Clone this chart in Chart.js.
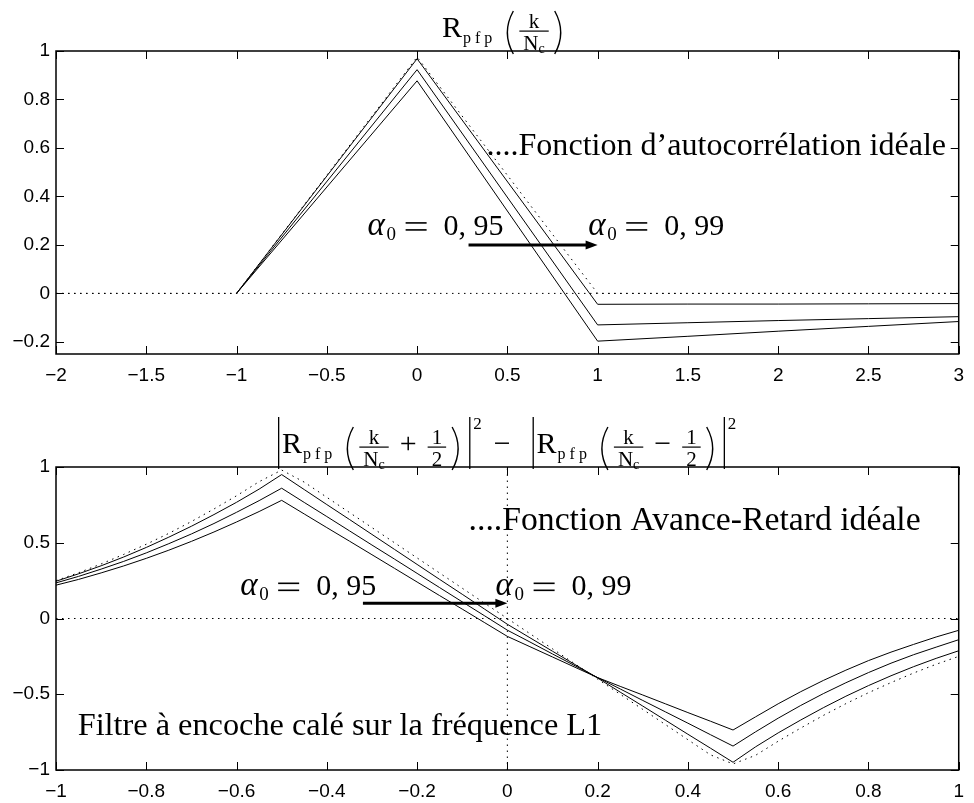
<!DOCTYPE html>
<html>
<head>
<meta charset="UTF-8">
<title>Autocorrélation et fonction Avance-Retard</title>
<script src="https://cdn.jsdelivr.net/npm/chart.js@4.4.1/dist/chart.umd.min.js"></script>
<style>
    body { margin: 0; background: #fff; }
    .wrap { position: relative; width: 974px; height: 803px; }
    #haut { position: absolute; left: 0; top: 0; }
    #bas { position: absolute; left: 0; top: 400px; }
</style>
</head>
<body>
<div class="wrap">
    <canvas id="haut" width="974" height="400"></canvas>
    <canvas id="bas" width="974" height="403"></canvas>
</div>
<script>
// R_pfp(k/Nc) pour alpha0 = 0,95 ... 0,99
var retard = [-1, 0, 1, 1.5, 2, 2.5, 3];
var rPfp95 = [0, 0.877, -0.197, -0.177, -0.156, -0.136, -0.116];
var rPfp97 = [0, 0.923, -0.130, -0.121, -0.112, -0.104, -0.096];
var rPfp99 = [0, 0.968, -0.045, -0.044, -0.044, -0.043, -0.042];
var retardIdeal = [-2, -1, 0, 1, 3];
var rIdeal = [0, 0, 0.975, 0, 0];
var ticksRetard = [-2, -1.5, -1, -0.5, 0, 0.5, 1, 1.5, 2, 2.5, 3];
var ticksR = [-0.2, 0, 0.2, 0.4, 0.6, 0.8, 1];

// discriminateur avance-retard |R(k/Nc+1/2)|^2 - |R(k/Nc-1/2)|^2
var ecart = [-1, -0.95, -0.9, -0.85, -0.8, -0.75, -0.7, -0.65, -0.6, -0.55, -0.5,
             -0.45, -0.4, -0.35, -0.3, -0.25, -0.2, -0.15, -0.1, -0.05, 0,
             0.05, 0.1, 0.15, 0.2, 0.25, 0.3, 0.35, 0.4, 0.45, 0.5,
             0.55, 0.6, 0.65, 0.7, 0.75, 0.8, 0.85, 0.9, 0.95, 1];
var dIdeal = [0.25, 0.302, 0.36, 0.423, 0.49, 0.562, 0.64, 0.723, 0.81, 0.903, 0.98,
              0.9, 0.8, 0.7, 0.6, 0.5, 0.4, 0.3, 0.2, 0.1, 0,
              -0.1, -0.2, -0.3, -0.4, -0.5, -0.6, -0.7, -0.8, -0.9, -0.96,
              -0.903, -0.81, -0.723, -0.64, -0.562, -0.49, -0.423, -0.36, -0.302, -0.25];
var d99 = [0.246, 0.295, 0.348, 0.406, 0.469, 0.537, 0.609, 0.686, 0.767, 0.854, 0.950,
           0.851, 0.752, 0.654, 0.555, 0.456, 0.357, 0.258, 0.160, 0.061, -0.038,
           -0.127, -0.216, -0.304, -0.393, -0.486, -0.578, -0.671, -0.764, -0.856, -0.949,
           -0.847, -0.755, -0.670, -0.589, -0.513, -0.443, -0.378, -0.318, -0.263, -0.213];
var d97 = [0.235, 0.278, 0.326, 0.377, 0.433, 0.494, 0.558, 0.627, 0.701, 0.778, 0.860,
           0.766, 0.673, 0.579, 0.485, 0.392, 0.298, 0.204, 0.110, 0.017, -0.077,
           -0.155, -0.234, -0.312, -0.390, -0.465, -0.541, -0.616, -0.691, -0.767, -0.842,
           -0.748, -0.658, -0.574, -0.496, -0.424, -0.357, -0.295, -0.239, -0.189, -0.140];
var d95 = [0.220, 0.258, 0.301, 0.347, 0.397, 0.451, 0.509, 0.571, 0.637, 0.706, 0.780,
           0.690, 0.600, 0.511, 0.421, 0.331, 0.241, 0.151, 0.062, -0.028, -0.118,
           -0.186, -0.254, -0.322, -0.390, -0.448, -0.505, -0.563, -0.621, -0.678, -0.736,
           -0.649, -0.563, -0.483, -0.409, -0.341, -0.278, -0.222, -0.171, -0.122, -0.078];
var ticksEcart = [-1, -0.8, -0.6, -0.4, -0.2, 0, 0.2, 0.4, 0.6, 0.8, 1];
var ticksD = [-1, -0.5, 0, 0.5, 1];

var SERIF = "'Liberation Serif', 'DejaVu Serif', serif";
var SANS = "'Liberation Sans', Arial, sans-serif";

function xy(xs, ys) {
    return xs.map(function(x, i) { return {x: x, y: ys[i]}; });
}

function fmtTick(v) {
    var r = Math.round(v * 100) / 100;
    if (r === 0) return '0';
    return (r < 0 ? '\u2212' : '') + Math.abs(r);
}

function solid(data) {
    return { data: data, showLine: true, borderColor: '#000', borderWidth: 1, pointRadius: 0, fill: false };
}
function dotted(data) {
    return { data: data, showLine: true, borderColor: '#000', borderWidth: 1, borderDash: [1.5, 4.5], pointRadius: 0, fill: false };
}

function axis(min, max, ticks, isX) {
    return {
        type: 'linear', min: min, max: max,
        afterBuildTicks: function(s) { s.ticks = ticks.map(function(v) { return {value: v}; }); },
        afterFit: function(s) { if (isX) s.height = 30; else s.width = 56; },
        grid: { display: false, drawTicks: false },
        border: { display: false },
        ticks: {
            color: '#000', padding: isX ? 10 : 6, maxRotation: 0, autoSkip: false,
            font: { family: SANS, size: 19 },
            callback: fmtTick
        }
    };
}

// cadre et graduations rentrantes
var cadre = {
    id: 'cadre',
    afterDatasetsDraw: function(chart) {
        var a = chart.chartArea, ctx = chart.ctx, sx = chart.scales.x, sy = chart.scales.y;
        ctx.save();
        ctx.strokeStyle = '#000';
        ctx.lineWidth = 1;
        ctx.beginPath();
        sx.ticks.forEach(function(t) {
            var p = Math.round(sx.getPixelForValue(t.value)) + 0.5;
            ctx.moveTo(p, a.bottom); ctx.lineTo(p, a.bottom - 8);
            ctx.moveTo(p, a.top); ctx.lineTo(p, a.top + 8);
        });
        sy.ticks.forEach(function(t) {
            var p = Math.round(sy.getPixelForValue(t.value)) + 0.5;
            ctx.moveTo(a.left, p); ctx.lineTo(a.left + 8, p);
            ctx.moveTo(a.right, p); ctx.lineTo(a.right - 8, p);
        });
        ctx.stroke();
        ctx.lineWidth = 1.5;
        ctx.strokeRect(a.left, a.top, a.right - a.left, a.bottom - a.top);
        ctx.restore();
    }
};

// petite mise en page de formules
function txt(s, size, dy, spacing) {
    var font = size + 'px ' + SERIF;
    return {
        w: function(ctx) { ctx.font = font; ctx.letterSpacing = (spacing || 0) + 'px'; var w = ctx.measureText(s).width; ctx.letterSpacing = '0px'; return w; },
        draw: function(ctx, x, b) {
            ctx.font = font;
            ctx.letterSpacing = (spacing || 0) + 'px';
            ctx.fillText(s, x, b + (dy || 0));
            ctx.letterSpacing = '0px';
        }
    };
}
function gap(w) { return { w: function() { return w; }, draw: function() {} }; }
function paren(left) {
    return {
        w: function() { return 14; },
        draw: function(ctx, x, b) {
            var t = b - 26, u = b + 17;
            ctx.beginPath();
            if (left) { ctx.moveTo(x + 11, t); ctx.quadraticCurveTo(x - 1, (t + u) / 2, x + 11, u); }
            else { ctx.moveTo(x + 3, t); ctx.quadraticCurveTo(x + 15, (t + u) / 2, x + 3, u); }
            ctx.lineWidth = 1.4;
            ctx.stroke();
        }
    };
}
function frac(num, den, denSub) {
    var f = '21px ' + SERIF, fs = '14px ' + SERIF;
    function wd(ctx) {
        ctx.font = f;
        var dn = ctx.measureText(den).width;
        ctx.font = fs;
        if (denSub) dn += ctx.measureText(denSub).width;
        return dn;
    }
    function content(ctx) { ctx.font = f; return Math.max(ctx.measureText(num).width, wd(ctx)); }
    return {
        w: function(ctx) { return content(ctx) + 14; },
        draw: function(ctx, x, b) {
            var w = content(ctx) + 14, c = x + w / 2;
            ctx.font = f;
            var nw = ctx.measureText(num).width;
            ctx.fillText(num, c - nw / 2, b - 9);
            var dw = wd(ctx);
            ctx.font = f;
            ctx.fillText(den, c - dw / 2, b + 13);
            if (denSub) {
                var w0 = ctx.measureText(den).width;
                ctx.font = fs;
                ctx.fillText(denSub, c - dw / 2 + w0, b + 16);
            }
            ctx.fillRect(x + 3, b - 6.5, w - 6, 1.2);
        }
    };
}
function vbar() {
    return {
        w: function() { return 6; },
        draw: function(ctx, x, b) { ctx.fillRect(x + 2, b - 36, 1.3, 52); }
    };
}
function rPfp() {
    return [txt('R', 30), gap(1), txt('pfp', 16, 6, 4), gap(6)];
}
function mathRow(ctx, items, x, b) {
    ctx.save();
    ctx.fillStyle = '#000'; ctx.strokeStyle = '#000';
    ctx.textAlign = 'left'; ctx.textBaseline = 'alphabetic';
    items.forEach(function(it) { var w = it.w(ctx); it.draw(ctx, x, b); x += w; });
    ctx.restore();
}

function alphaLabel(chart, x, y, val) {
    var ctx = chart.ctx;
    var px = chart.scales.x.getPixelForValue(x), py = chart.scales.y.getPixelForValue(y);
    ctx.save();
    ctx.fillStyle = '#000'; ctx.textAlign = 'left'; ctx.textBaseline = 'alphabetic';
    ctx.font = 'italic 33px ' + SERIF;
    ctx.fillText('\u03b1', px, py);
    ctx.font = '19px ' + SERIF;
    ctx.fillText('0', px + 19, py + 5);
    ctx.fillRect(px + 38, py - 12.5, 21, 1.6);
    ctx.fillRect(px + 38, py - 5.5, 21, 1.6);
    ctx.font = '30px ' + SERIF;
    ctx.fillText(val, px + 76, py);
    ctx.restore();
}

function arrow(chart, x0, x1, y) {
    var ctx = chart.ctx;
    var a = chart.scales.x.getPixelForValue(x0), b = chart.scales.x.getPixelForValue(x1);
    var py = chart.scales.y.getPixelForValue(y);
    ctx.save();
    ctx.strokeStyle = '#000'; ctx.fillStyle = '#000'; ctx.lineWidth = 3;
    ctx.beginPath(); ctx.moveTo(a, py); ctx.lineTo(b - 8, py); ctx.stroke();
    ctx.beginPath(); ctx.moveTo(b, py); ctx.lineTo(b - 12, py - 4.5); ctx.lineTo(b - 12, py + 4.5); ctx.closePath(); ctx.fill();
    ctx.restore();
}

function label(chart, x, y, s, width) {
    var ctx = chart.ctx;
    var px = chart.scales.x.getPixelForValue(x), py = chart.scales.y.getPixelForValue(y);
    ctx.save();
    ctx.fillStyle = '#000'; ctx.textAlign = 'left'; ctx.textBaseline = 'alphabetic';
    ctx.font = '28px ' + SERIF;
    var size = 28 * width / ctx.measureText(s).width;
    ctx.font = size.toFixed(1) + 'px ' + SERIF;
    ctx.fillText(s, px, py);
    ctx.restore();
}

var notesHaut = {
    id: 'notesHaut',
    afterDraw: function(chart) {
        var a = chart.chartArea;
        mathRow(chart.ctx, rPfp().concat([paren(true), frac('k', 'N', 'c'), paren(false)]), 442, a.top - 14);
        alphaLabel(chart, -0.274, 0.2425, '0, 95');
        alphaLabel(chart, 0.948, 0.2425, '0, 99');
        arrow(chart, 0.285, 1.0, 0.2);
        label(chart, 0.384, 0.571, '....Fonction d\u2019autocorrélation idéale', 460);
    }
};

function groupe(signe) {
    return [vbar()].concat(rPfp(), [paren(true), frac('k', 'N', 'c'), gap(8), txt(signe, 30), gap(8),
        frac('1', '2'), paren(false), gap(4), vbar(), txt('2', 17, -24)]);
}

var notesBas = {
    id: 'notesBas',
    afterDraw: function(chart) {
        var a = chart.chartArea;
        var row = groupe('+').concat([gap(12), txt('\u2212', 30), gap(20)], groupe('\u2212'));
        mathRow(chart.ctx, row, 276, a.top - 14);
        alphaLabel(chart, -0.592, 0.155, '0, 95');
        alphaLabel(chart, -0.026, 0.155, '0, 99');
        arrow(chart, -0.32, 0, 0.1);
        label(chart, -0.086, 0.584, '....Fonction Avance-Retard idéale', 452);
        label(chart, -0.952, -0.769, 'Filtre à encoche calé sur la fréquence L1', 524);
    }
};

function baseOptions(xAxis, yAxis, pad) {
    return {
        responsive: false, animation: false, devicePixelRatio: 1,
        layout: { padding: pad },
        plugins: { legend: { display: false }, tooltip: { enabled: false } },
        scales: { x: xAxis, y: yAxis }
    };
}

new Chart('haut', {
    type: 'scatter',
    data: {
        datasets: [
            dotted(xy([-2, 3], [0, 0])),
            dotted(xy(retardIdeal, rIdeal)),
            solid(xy(retard, rPfp99)),
            solid(xy(retard, rPfp97)),
            solid(xy(retard, rPfp95))
        ]
    },
    options: baseOptions(axis(-2, 3, ticksRetard, true), axis(-0.25, 1, ticksR, false),
        { left: 0, top: 51, right: 6, bottom: 16 }),
    plugins: [cadre, notesHaut]
});

new Chart('bas', {
    type: 'scatter',
    data: {
        datasets: [
            dotted(xy([-1, 1], [0, 0])),
            dotted(xy([0, 0], [-1, 1])),
            dotted(xy(ecart, dIdeal)),
            solid(xy(ecart, d99)),
            solid(xy(ecart, d97)),
            solid(xy(ecart, d95))
        ]
    },
    options: baseOptions(axis(-1, 1, ticksEcart, true), axis(-1, 1, ticksD, false),
        { left: 0, top: 67, right: 6, bottom: 3 }),
    plugins: [cadre, notesBas]
});
</script>
</body>
</html>
